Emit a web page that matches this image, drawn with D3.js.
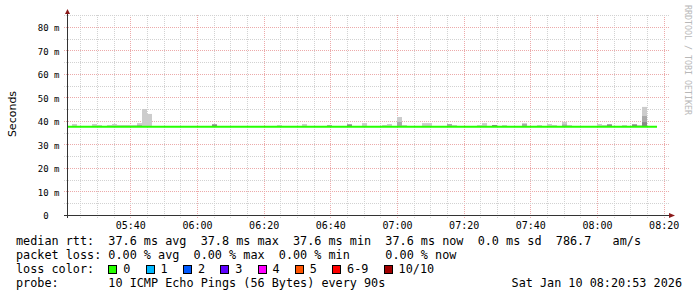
<!DOCTYPE html>
<html><head><meta charset="utf-8">
<script src="https://cdn.jsdelivr.net/npm/d3@7"></script>
<style>
html,body{margin:0;padding:0;background:#fff;}
svg{display:block;}
text{white-space:pre;}
</style></head><body>
<svg id="c" width="697" height="297"></svg>
<script>
// ---------- data ----------
const startTime = new Date(2026, 0, 10, 5, 21, 0);
const endTime   = new Date(2026, 0, 10, 8, 21, 0);
const stepSeconds = 90;
// median rtt (ms) per 90 s step
const medianRtt = [
 37.6,37.6,37.6,37.6,37.6,37.6,37.6,37.6,37.6,37.6,37.6,37.6,37.6,37.6,37.6,37.6,37.6,37.6,37.6,37.6,
 37.6,37.6,37.6,37.6,37.6,37.6,37.6,37.6,37.6,37.6,37.6,37.6,37.6,37.6,37.6,37.6,37.6,37.6,37.6,37.6,
 37.6,37.6,37.6,37.6,37.6,37.6,37.6,37.6,37.6,37.6,37.6,37.6,37.6,37.6,37.6,37.6,37.6,37.6,37.6,37.6,
 37.6,37.6,37.6,37.6,37.6,37.6,37.6,37.6,37.6,37.6,37.6,37.6,37.6,37.6,37.6,37.6,37.6,37.6,37.6,37.6,
 37.6,37.6,37.6,37.6,37.6,37.6,37.6,37.6,37.6,37.6,37.6,37.6,37.6,37.6,37.6,37.6,37.6,37.6,37.6,37.6,
 37.6,37.6,37.6,37.6,37.6,37.6,37.6,37.6,37.6,37.6,37.6,37.6,37.6,37.6,37.6,37.6,37.6,37.6
];
// smoke (spread of the 10 pings above the median), only steps where it is visible
const smokeSteps = [1,5,6,8,9,10,11,12,13,14,15,16,29,42,47,52,56,59,63,64,66,67,71,72,76,77,82,83,85,87,91,94,96,97,99,100,106,107,108,111,113,114,115];
const smokeMax   = [38.7,38.7,38.3,38.3,38.7,38.3,38.3,38.3,38.3,39.1,45.1,43.0,38.7,38.3,38.7,38.3,38.7,39.1,38.3,38.7,41.7,38.3,39.1,39.1,38.7,38.3,38.3,39.1,38.3,38.3,39.1,38.3,38.7,38.3,39.6,38.3,38.7,38.3,38.7,38.3,38.7,38.3,46.0];
const smokeMid   = [37.6,37.6,37.6,37.6,37.6,37.6,37.6,37.6,37.6,38.3,37.6,37.6,38.7,37.6,37.6,38.3,38.7,37.6,37.6,37.6,39.6,37.6,37.6,37.6,38.7,37.6,37.6,37.6,38.3,37.6,38.7,37.6,37.6,37.6,38.5,37.6,37.6,37.6,38.7,37.6,38.7,37.6,42.1];
const smokeCore  = [37.6,37.6,37.6,37.6,37.6,37.6,37.6,37.6,37.6,37.6,37.6,37.6,38.3,37.6,37.6,37.6,38.3,37.6,37.6,37.6,37.6,37.6,37.6,37.6,37.6,37.6,37.6,37.6,38.3,37.6,37.6,37.6,37.6,37.6,37.6,37.6,37.6,37.6,38.3,37.6,38.3,37.6,39.5];
const yTickValues = [0,10,20,30,40,50,60,70,80];
const yUnit = "m";
const statLine1 = "median rtt:  37.6 ms avg  37.8 ms max  37.6 ms min  37.6 ms now  0.0 ms sd  786.7   am/s";
const statLine2 = "packet loss: 0.00 % avg  0.00 % max  0.00 % min     0.00 % now";
const lossLabels = ["0","1","2","3","4","5","6-9","10/10"];
const lossColors = ["#26ff00","#00b8ff","#0059ff","#5e00ff","#ff00ff","#ff5500","#ff0000","#a10000"];
const probeLine = "probe:       10 ICMP Echo Pings (56 Bytes) every 90s";
const stampText = "Sat Jan 10 08:20:53 2026";

// ---------- layout ----------
const X0 = 67, X1 = 667, Y0 = 215, Y1 = 15;
const svg = d3.select("#c");
const mono = "'DejaVu Sans Mono', monospace";
const x = d3.scaleTime().domain([startTime, endTime]).range([X0, X1]);
const y = d3.scaleLinear().domain([0, 85.1]).range([Y0, Y1]);
const stepTime = i => new Date(startTime.getTime() + i * stepSeconds * 1000);
const px = v => Math.round(v) + 0.5;
const minorCol = "#d2d2d2", majorCol = "#ecaaaa";

// grid
const grid = svg.append("g");
const majorT = x.ticks(d3.timeMinute.every(20)).map(d => +d);
x.ticks(d3.timeMinute.every(5)).filter(d => !majorT.includes(+d)).forEach(d => {
  grid.append("line").attr("x1", px(x(d))).attr("x2", px(x(d))).attr("y1", Y1).attr("y2", Y0 + 3)
    .attr("stroke", minorCol).attr("stroke-dasharray", "1,1");
});
majorT.forEach(d => {
  grid.append("line").attr("x1", px(x(d))).attr("x2", px(x(d))).attr("y1", Y1).attr("y2", Y0 + 3)
    .attr("stroke", majorCol).attr("stroke-dasharray", "1,1");
});
d3.range(5, 86, 5).forEach(v => {
  const major = v % 10 === 0;
  grid.append("line").attr("x1", X0 - 3).attr("x2", X1 + 3).attr("y1", px(y(v))).attr("y2", px(y(v)))
    .attr("stroke", major ? majorCol : minorCol).attr("stroke-dasharray", "1,1");
});

// smoke
const smoke = svg.append("g");
const bands = [[smokeMax, "#cccccc"], [smokeMid, "#aaaaaa"], [smokeCore, "#888888"]];
bands.forEach(([arr, col]) => {
  smoke.selectAll(null).data(smokeSteps.map((s, i) => ({s, hi: arr[i], lo: medianRtt[s]})).filter(d => d.hi > d.lo))
    .enter().append("rect")
    .attr("x", d => x(stepTime(d.s))).attr("width", d => x(stepTime(d.s + 1)) - x(stepTime(d.s)))
    .attr("y", d => y(d.hi)).attr("height", d => y(d.lo) - y(d.hi))
    .attr("fill", col);
});

// median line
const medPts = medianRtt.map((v, i) => ({t: stepTime(i), v}));
medPts.push({t: stepTime(medianRtt.length), v: medianRtt[medianRtt.length - 1]});
svg.append("path").datum(medPts)
  .attr("d", d3.line().x(d => x(d.t)).y(d => y(d.v)).curve(d3.curveStepAfter))
  .attr("fill", "none").attr("stroke", lossColors[0]).attr("stroke-width", 2);

// axes lines + arrows
const axisCol = "#333";
svg.append("line").attr("x1", X0 - 3).attr("x2", X1 + 3).attr("y1", px(Y0)).attr("y2", px(Y0)).attr("stroke", axisCol);
svg.append("line").attr("x1", px(X0)).attr("x2", px(X0)).attr("y1", Y1 - 2).attr("y2", Y0 + 3).attr("stroke", axisCol);
svg.append("path").attr("d", `M${X1+2},${Y0-2} L${X1+8},${Y0+0.5} L${X1+2},${Y0+3} Z`).attr("fill", "#8b1a1a");
svg.append("path").attr("d", `M${X0-2},${Y1-1} L${X0+0.5},${Y1-6} L${X0+3},${Y1-1} Z`).attr("fill", "#8b1a1a");

// axis labels via d3 axes
const xa = svg.append("g").attr("transform", `translate(0,${Y0})`)
  .call(d3.axisBottom(x).ticks(d3.timeMinute.every(20)).tickFormat(d3.timeFormat("%H:%M")).tickSize(0).tickPadding(6.5));
xa.select(".domain").remove();
xa.selectAll("text").attr("font-family", mono).attr("font-size", 10).attr("fill", "#000");

const ya = svg.append("g").attr("transform", `translate(${X0},0)`)
  .call(d3.axisLeft(y).tickValues(yTickValues).tickFormat(v => v === 0 ? "0  " : `${v} ${yUnit}`).tickSize(0).tickPadding(7.5));
ya.select(".domain").remove();
ya.selectAll("text").attr("font-family", mono).attr("font-size", 9).attr("fill", "#000").attr("dy", "0.39em");

svg.append("text").attr("transform", "translate(15.5,114) rotate(-90)").attr("text-anchor", "middle")
  .attr("font-family", "'DejaVu Sans', sans-serif").attr("font-size", 11).attr("fill", "#000").text("Seconds");

svg.append("text").attr("transform", "translate(685,5) rotate(90)")
  .attr("font-family", mono).attr("font-size", 8.3).attr("fill", "#b8b8b8").text("RRDTOOL / TOBI OETIKER");

// legend
const lf = 11.8, cw = 7.1, lx = 16;
const leg = svg.append("g").attr("font-family", mono).attr("font-size", lf).attr("fill", "#000");
leg.append("text").attr("x", lx).attr("y", 245).text(statLine1);
leg.append("text").attr("x", lx).attr("y", 259).text(statLine2);
leg.append("text").attr("x", lx).attr("y", 273).text("loss color:");
let bx = lx + 13 * cw;
lossLabels.forEach((lab, i) => {
  leg.append("rect").attr("x", Math.round(bx) + 0.5).attr("y", 265.5).attr("width", 8).attr("height", 8)
    .attr("fill", lossColors[i]).attr("stroke", "#000");
  leg.append("text").attr("x", bx + 15).attr("y", 273).text(lab);
  bx += 15 + lab.length * cw + 15.2;
});
leg.append("text").attr("x", lx).attr("y", 287).text(probeLine);
leg.append("text").attr("x", 682).attr("y", 287).attr("text-anchor", "end").text(stampText);
</script>
</body></html>
